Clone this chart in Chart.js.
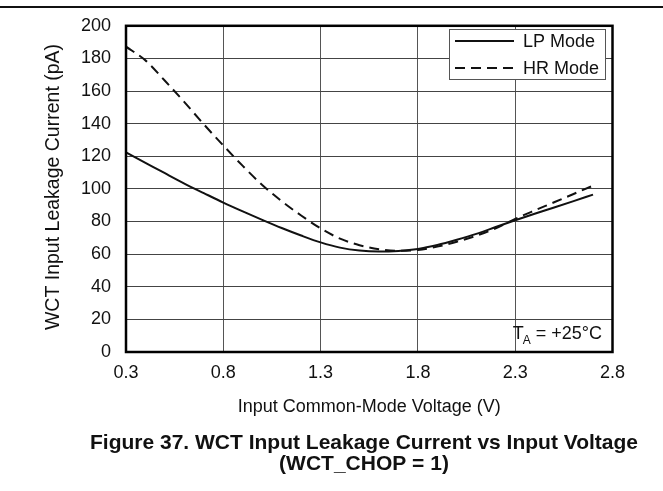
<!DOCTYPE html>
<html>
<head>
<meta charset="utf-8">
<script src="https://cdn.jsdelivr.net/npm/chart.js@4.4.1/dist/chart.umd.min.js"></script>
<style>
html,body{margin:0;padding:0;background:#fff;}
#wrap{position:relative;width:663px;height:491px;}
canvas{position:absolute;left:0;top:0;}
</style>
</head>
<body>
<div id="wrap"><canvas id="c" width="663" height="491"></canvas></div>
<script>
const voltage = [0.3,0.4,0.5,0.6,0.7,0.8,0.9,1.0,1.1,1.2,1.3,1.4,1.5,1.6,1.7,1.8,1.9,2.0,2.1,2.2,2.3,2.4,2.5,2.6,2.7];
const lpMode  = [122.4,116,109.6,103.3,97.4,91.6,86.2,81.0,76.0,71.4,67.2,64.0,62.2,61.6,62.0,63.2,65.6,68.8,72.4,76.6,80.8,84.8,88.6,92.5,96.5];
const hrMode  = [187.2,178.8,166.3,153.2,139.6,126.6,114.1,102.4,92.5,83.7,75.8,69.5,65.5,63.0,62.0,62.6,64.6,67.6,71.3,75.8,81.6,86.8,91.8,96.9,102];
const xTicks = [0.3,0.8,1.3,1.8,2.3,2.8];
const yTicks = [0,20,40,60,80,100,120,140,160,180,200];
const seriesNames = ['LP Mode','HR Mode'];

const FONT = '"Liberation Sans", Arial, Helvetica, sans-serif';

const frame = {
  id:'frame',
  beforeDraw(chart){
    const ctx = chart.ctx;
    ctx.save();
    ctx.fillStyle='#fff';
    ctx.fillRect(0,0,chart.width,chart.height);
    ctx.strokeStyle='#111';
    ctx.lineWidth=2;
    ctx.beginPath();ctx.moveTo(0,7);ctx.lineTo(chart.width,7);ctx.stroke();
    ctx.restore();
  },
  afterDraw(chart){
    const ctx = chart.ctx, a = chart.chartArea;
    ctx.save();
    ctx.strokeStyle='#000';
    ctx.lineWidth=2.5;
    ctx.strokeRect(a.left,a.top,a.right-a.left,a.bottom-a.top);
    // legend
    const lx=449.5, ly=29.5, lw=156, lh=50;
    ctx.fillStyle='#fff';
    ctx.fillRect(lx,ly,lw,lh);
    ctx.strokeStyle='#555';
    ctx.lineWidth=1;
    ctx.strokeRect(lx,ly,lw,lh);
    chart.data.datasets.forEach((ds,i)=>{
      const y = 41+i*27;
      ctx.strokeStyle='#111';
      ctx.lineWidth=2;
      ctx.setLineDash(ds.borderDash||[]);
      ctx.beginPath();ctx.moveTo(455,y);ctx.lineTo(514,y);ctx.stroke();
      ctx.setLineDash([]);
      ctx.fillStyle='#111';
      ctx.font='18px '+FONT;
      ctx.textAlign='left';ctx.textBaseline='middle';
      ctx.fillText(ds.label,523,y+1);
    });
    // T_A annotation
    ctx.fillStyle='#111';
    ctx.textBaseline='alphabetic';
    ctx.textAlign='right';
    ctx.font='18px '+FONT;
    const rest=' = +25°C';
    const rw=ctx.measureText(rest).width;
    ctx.fillText(rest,602,339);
    ctx.font='12px '+FONT;
    const aw=ctx.measureText('A').width;
    ctx.fillText('A',602-rw,344);
    ctx.font='18px '+FONT;
    ctx.fillText('T',602-rw-aw+1,339);
    // axis titles
    ctx.textAlign='center';
    ctx.font='18px '+FONT;
    ctx.fillText('Input Common-Mode Voltage (V)',(a.left+a.right)/2,412);
    ctx.save();
    ctx.translate(58.5,187);
    ctx.rotate(-Math.PI/2);
    ctx.font='19.5px '+FONT;
    ctx.fillText('WCT Input Leakage Current (pA)',0,0);
    ctx.restore();
    // caption
    ctx.font='bold 21px '+FONT;
    ctx.fillText('Figure 37. WCT Input Leakage Current vs Input Voltage',364,449);
    ctx.fillText('(WCT_CHOP = 1)',364,470);
    ctx.restore();
  }
};

new Chart(document.getElementById('c'),{
  type:'line',
  data:{
    datasets:[
      {label:seriesNames[0],data:voltage.map((v,i)=>({x:v,y:lpMode[i]})),borderColor:'#111',borderWidth:2,pointRadius:0,cubicInterpolationMode:'monotone',fill:false},
      {label:seriesNames[1],data:voltage.map((v,i)=>({x:v,y:hrMode[i]})),borderColor:'#111',borderWidth:2,borderDash:[10,6],pointRadius:0,cubicInterpolationMode:'monotone',fill:false}
    ]
  },
  options:{
    responsive:false,
    animation:false,
    devicePixelRatio:1,
    layout:{padding:{left:0,right:50.5,top:23,bottom:0}},
    plugins:{legend:{display:false},tooltip:{enabled:false},title:{display:false}},
    scales:{
      x:{type:'linear',min:0.3,max:2.8,
        afterBuildTicks:s=>{s.ticks=xTicks.map(v=>({value:v}));},
        afterFit:s=>{s.height=139;},
        grid:{color:'#555',lineWidth:1,drawTicks:false},
        border:{display:false},
        ticks:{color:'#111',font:{family:FONT,size:18},padding:10,maxRotation:0,callback:v=>Number(v).toFixed(1)}
      },
      y:{type:'linear',min:0,max:200,
        afterBuildTicks:s=>{s.ticks=yTicks.map(v=>({value:v}));},
        afterFit:s=>{s.width=126;},
        grid:{color:'#444',lineWidth:1,drawTicks:false},
        border:{display:false},
        ticks:{color:'#111',font:{family:FONT,size:18},padding:15}
      }
    }
  },
  plugins:[frame]
});
</script>
</body>
</html>
